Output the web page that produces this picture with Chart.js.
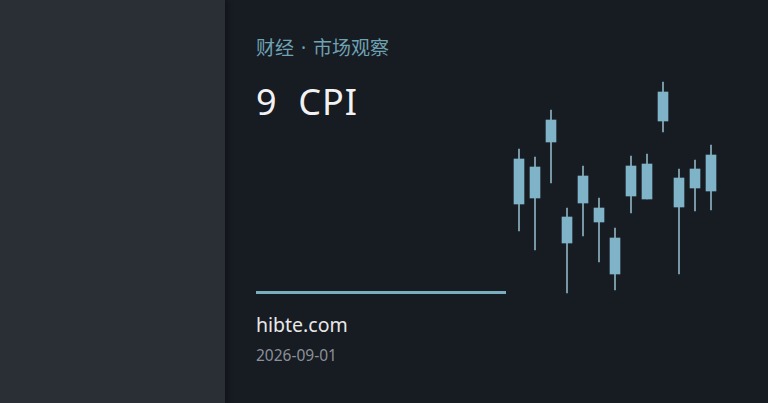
<!DOCTYPE html>
<html>
<head>
<meta charset="utf-8">
<script src="https://cdn.jsdelivr.net/npm/chart.js@4"></script>
<style>
    html, body {
        margin: 0;
        padding: 0;
        width: 768px;
        height: 403px;
        overflow: hidden;
        background: #171b22;
        font-family: "Noto Sans", "Noto Sans CJK SC", sans-serif;
    }
    .side {
        position: absolute;
        left: 0;
        top: 0;
        width: 225px;
        height: 403px;
        background: #2a2e35;
        box-shadow: 2px 0 6px rgba(0, 0, 0, 0.35);
    }
    .kicker {
        position: absolute;
        left: 256px;
        top: 33px;
        font-family: "Noto Sans", "Noto Sans CJK SC", sans-serif;
        font-size: 19px;
        word-spacing: 2px;
        color: #6fa2b3;
        white-space: pre;
    }
    .title {
        position: absolute;
        left: 256px;
        top: 77px;
        font-size: 36px;
        letter-spacing: 1px;
        color: #f2f2f2;
        white-space: pre;
    }
    .rule {
        position: absolute;
        left: 256px;
        top: 291px;
        width: 250px;
        height: 3px;
        background: #78aebd;
    }
    .site {
        position: absolute;
        left: 256px;
        top: 311px;
        font-size: 19.5px;
        color: #e8e8e8;
    }
    .date {
        position: absolute;
        left: 256px;
        top: 344px;
        font-size: 15.5px;
        color: #8b9099;
    }
    .chart-box {
        position: absolute;
        left: 511px;
        top: 80px;
        width: 208px;
        height: 220px;
    }
</style>
</head>
<body>
<div class="side"></div>
<div class="kicker">财经 · 市场观察</div>
<div class="title">9  CPI</div>
<div class="rule"></div>
<div class="site">hibte.com</div>
<div class="date">2026-09-01</div>
<div class="chart-box"><canvas id="candleChart"></canvas></div>

<script>
const labels = ["1", "2", "3", "4", "5", "6", "7", "8", "9", "10", "11", "12", "13"];
const opens = [1.96, 2.02, 2.58, 1.57, 1.97, 1.78, 1.26, 2.04, 2.01, 2.79, 1.93, 2.12, 2.09];
const closes = [2.41, 2.33, 2.80, 1.83, 2.24, 1.92, 1.62, 2.34, 2.36, 3.08, 2.22, 2.31, 2.45];
const highs = [2.51, 2.43, 2.90, 1.92, 2.34, 2.02, 1.72, 2.44, 2.46, 3.18, 2.31, 2.40, 2.55];
const lows = [1.69, 1.50, 2.17, 1.07, 1.64, 1.38, 1.10, 1.87, 2.01, 2.68, 1.26, 1.89, 1.90];

function renderCandles(canvasId) {
    const canvas = document.getElementById(canvasId);
    if (!canvas) {
        return;
    }

    const bodies = labels.map((_, i) => [opens[i], closes[i]]);
    const wicks = labels.map((_, i) => [lows[i], highs[i]]);

    new Chart(canvas, {
        type: "bar",
        data: {
            labels,
            datasets: [{
                label: "body",
                data: bodies,
                backgroundColor: "#7fb4c8",
                borderWidth: 0,
                barThickness: 10,
                grouped: false
            }, {
                label: "wick",
                data: wicks,
                backgroundColor: "#8cb2c1",
                borderWidth: 0,
                barThickness: 1,
                grouped: false
            }]
        },
        options: {
            responsive: true,
            maintainAspectRatio: false,
            animation: false,
            layout: {
                padding: 0
            },
            plugins: {
                legend: {
                    display: false
                },
                tooltip: {
                    enabled: false
                }
            },
            scales: {
                x: {
                    display: false,
                    offset: true
                },
                y: {
                    display: false,
                    min: 1.0,
                    max: 3.2
                }
            }
        }
    });
}

renderCandles("candleChart");
</script>
</body>
</html>
